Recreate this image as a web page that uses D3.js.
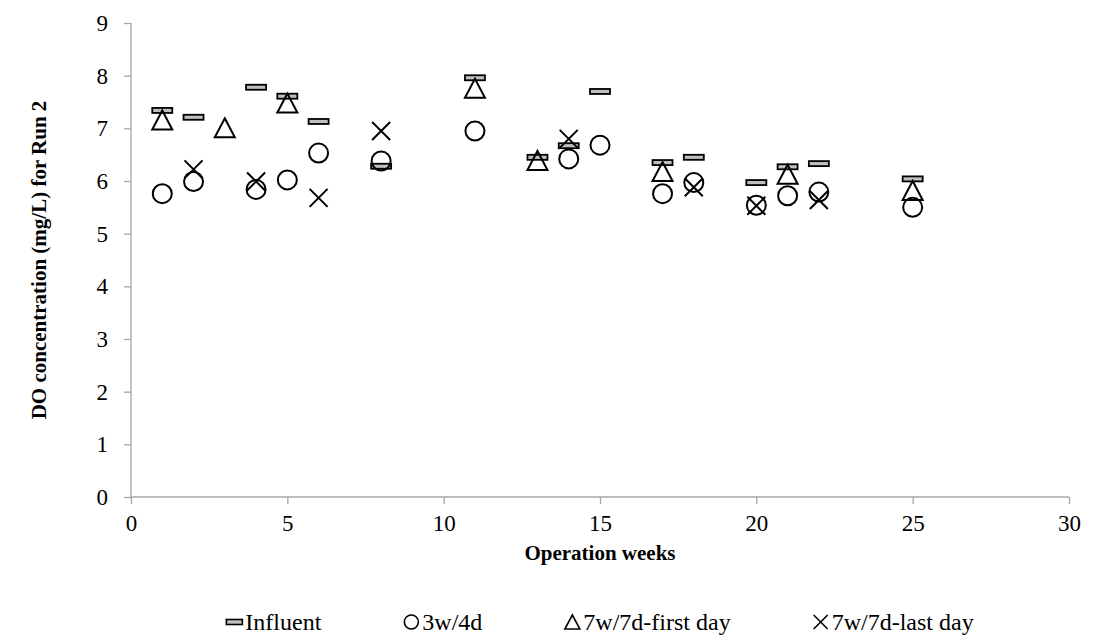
<!DOCTYPE html>
<html>
<head>
<meta charset="utf-8">
<script src="https://cdn.jsdelivr.net/npm/d3@7"></script>
<style>
  body { margin: 0; background: #fff; }
</style>
</head>
<body>
<div id="chart"></div>
<script>
// data
var influentWeeks = [1, 2, 4, 5, 6, 8, 11, 13, 14, 15, 17, 18, 20, 21, 22, 25];
var influentDO    = [7.34, 7.21, 7.78, 7.61, 7.13, 6.28, 7.96, 6.45, 6.67, 7.70, 6.35, 6.45, 5.97, 6.27, 6.33, 6.04];

var w3d4Weeks = [1, 2, 4, 5, 6, 8, 11, 14, 15, 17, 18, 20, 21, 22, 25];
var w3d4DO    = [5.76, 5.99, 5.84, 6.02, 6.53, 6.38, 6.95, 6.42, 6.68, 5.76, 5.97, 5.54, 5.72, 5.79, 5.50];

var firstWeeks = [1, 3, 5, 11, 13, 17, 21, 25];
var firstDO    = [7.15, 7.00, 7.47, 7.75, 6.38, 6.17, 6.12, 5.81];

var lastWeeks = [2, 4, 6, 8, 14, 18, 20, 22];
var lastDO    = [6.22, 5.99, 5.68, 6.95, 6.80, 5.88, 5.53, 5.64];

var xTicks = [0, 5, 10, 15, 20, 25, 30];
var yTicks = [0, 1, 2, 3, 4, 5, 6, 7, 8, 9];
var seriesNames = ["Influent", "3w/4d", "7w/7d-first day", "7w/7d-last day"];

var serif = "'Liberation Serif', 'Times New Roman', serif";
var width = 1093, height = 640;
var margin = { top: 23, right: 24, bottom: 143, left: 131 };

var svg = d3.select("#chart").append("svg")
    .attr("width", width)
    .attr("height", height)
    .style("font-family", serif);

var x = d3.scaleLinear().domain([0, 30]).range([margin.left, width - margin.right]);
var y = d3.scaleLinear().domain([0, 9]).range([height - margin.bottom, margin.top]);

// axes
var xAxis = svg.append("g")
    .attr("transform", "translate(0," + y(0) + ")")
    .call(d3.axisBottom(x).tickValues(xTicks).tickSize(7).tickPadding(11).tickFormat(d3.format("d")));
var yAxis = svg.append("g")
    .attr("transform", "translate(" + x(0) + ",0)")
    .call(d3.axisLeft(y).tickValues(yTicks).tickSize(7).tickPadding(16).tickFormat(d3.format("d")));

[xAxis, yAxis].forEach(function (a) {
    a.attr("font-family", serif);
    a.selectAll("path, line").attr("stroke", "#a6a6a6").attr("stroke-width", 1.3);
    a.selectAll("text").style("font-size", "23px").style("font-family", serif).attr("fill", "#000");
});
xAxis.select(".domain").attr("d", "M" + x(0) + ",0H" + x(30));
yAxis.select(".domain").attr("d", "M0," + y(0) + "V" + y(9));

// axis titles
svg.append("text")
    .attr("x", (x(0) + x(30)) / 2)
    .attr("y", 560)
    .attr("text-anchor", "middle")
    .style("font-size", "21px")
    .style("font-weight", "bold")
    .text("Operation weeks");

svg.append("text")
    .attr("transform", "translate(46," + ((y(0) + y(9)) / 2) + ") rotate(-90)")
    .attr("text-anchor", "middle")
    .style("font-size", "21px")
    .style("font-weight", "bold")
    .text("DO concentration (mg/L) for Run 2");

// marker drawers
function drawDash(g) {
    g.append("rect").attr("x", -10).attr("y", -2.5).attr("width", 20).attr("height", 5)
        .attr("fill", "#bfbfbf").attr("stroke", "#000").attr("stroke-width", 1.8);
}
function drawCircle(g) {
    g.append("circle").attr("r", 9.5)
        .attr("fill", "none").attr("stroke", "#000").attr("stroke-width", 2);
}
function drawTriangle(g) {
    g.append("path").attr("d", "M0,-10L10,9L-10,9Z")
        .attr("fill", "none").attr("stroke", "#000").attr("stroke-width", 2);
}
function drawCross(g) {
    g.append("path").attr("d", "M-9,-9L9,9M-9,9L9,-9")
        .attr("fill", "none").attr("stroke", "#000").attr("stroke-width", 2);
}

var series = [
    { weeks: influentWeeks, vals: influentDO, draw: drawDash },
    { weeks: w3d4Weeks, vals: w3d4DO, draw: drawCircle },
    { weeks: firstWeeks, vals: firstDO, draw: drawTriangle },
    { weeks: lastWeeks, vals: lastDO, draw: drawCross }
];

series.forEach(function (s) {
    svg.append("g").selectAll("g")
        .data(d3.zip(s.weeks, s.vals))
        .enter()
        .append("g")
        .attr("transform", function (d) { return "translate(" + x(d[0]) + "," + y(d[1]) + ")"; })
        .each(function () { s.draw(d3.select(this)); });
});

// legend, centred under the plot
var legendMarks = [
    function (g) { g.append("rect").attr("x", -8).attr("y", -2.5).attr("width", 16).attr("height", 5)
        .attr("fill", "#bfbfbf").attr("stroke", "#000").attr("stroke-width", 1.6); },
    function (g) { g.append("circle").attr("r", 7).attr("fill", "none").attr("stroke", "#000").attr("stroke-width", 1.6); },
    function (g) { g.append("path").attr("d", "M0,-7L7.5,7L-7.5,7Z").attr("fill", "none").attr("stroke", "#000").attr("stroke-width", 1.6); },
    function (g) { g.append("path").attr("d", "M-7,-7L7,7M-7,7L7,-7").attr("fill", "none").attr("stroke", "#000").attr("stroke-width", 1.6); }
];
var legend = svg.append("g");
var items = seriesNames.map(function (name, i) {
    var g = legend.append("g");
    legendMarks[i](g);
    var t = g.append("text").attr("x", 11).attr("y", 8).style("font-size", "24px").text(name);
    return { g: g, w: 19 + t.node().getComputedTextLength() };
});
var gap = 82;
var total = d3.sum(items, function (d) { return d.w; }) + gap * (items.length - 1);
var cx = (x(0) + x(30)) / 2 - total / 2 + 8;
items.forEach(function (it) {
    it.g.attr("transform", "translate(" + cx + ",622)");
    cx += it.w + gap;
});
</script>
</body>
</html>
